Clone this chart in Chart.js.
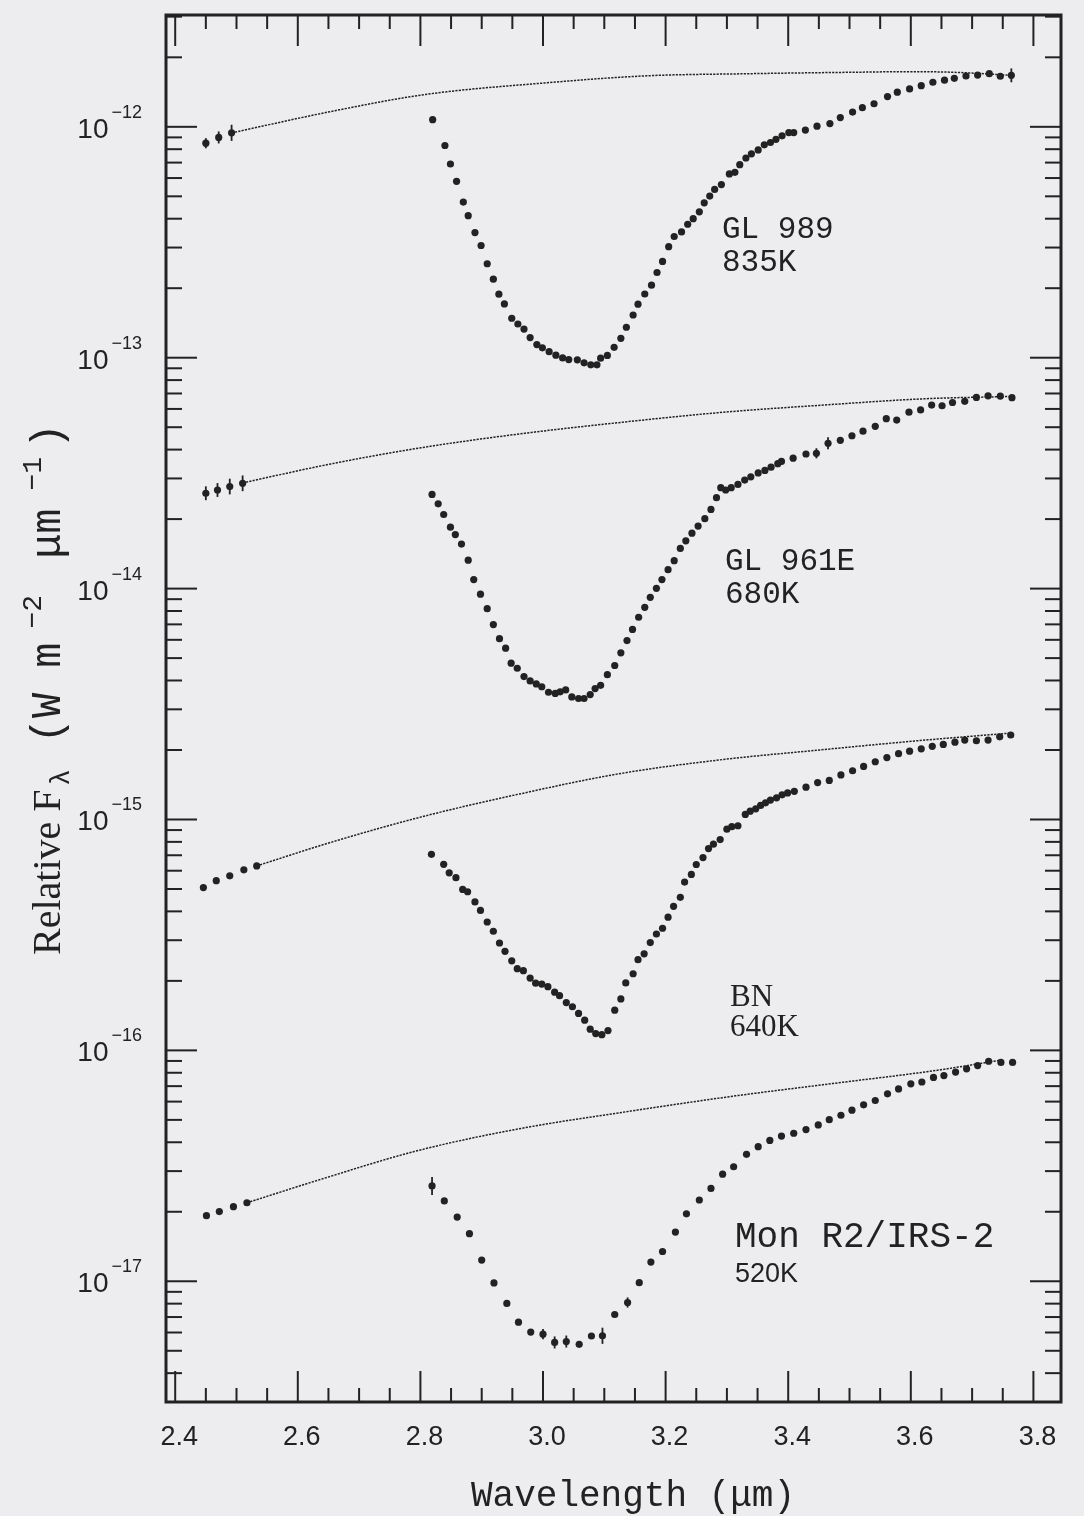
<!doctype html>
<html lang="en">
<head>
  <meta charset="utf-8">
  <title>Relative flux of embedded sources near 3 µm</title>
  <script src="https://cdn.jsdelivr.net/npm/chart.js"></script>
  <style>
    html, body { margin: 0; padding: 0; background: #edecee; }
    canvas { display: block; }
  </style>
</head>
<body>
  <canvas id="canvas_spectra" width="1084" height="1516" style="width:1084px;height:1516px"></canvas>
  <script type="text/javascript">

    // wavelengths in µm, fluxes stored as log10 of relative F_lambda (W m-2 µm-1)

    const gl989_wave = [
      2.450, 2.471, 2.492,
      2.820, 2.840, 2.849, 2.859, 2.870, 2.878, 2.889, 2.899, 2.909, 2.919,
      2.928, 2.937, 2.949, 2.959, 2.969, 2.979, 2.990, 2.999, 3.010, 3.021,
      3.032, 3.042, 3.056, 3.067, 3.078, 3.088, 3.094, 3.105, 3.116, 3.127,
      3.136, 3.147, 3.155, 3.166, 3.177, 3.186, 3.195, 3.205, 3.214, 3.226,
      3.236, 3.245, 3.255, 3.263, 3.272, 3.280, 3.291, 3.304, 3.313, 3.321,
      3.331, 3.340, 3.351, 3.361, 3.371, 3.380, 3.390, 3.401, 3.409, 3.428,
      3.447, 3.468, 3.485, 3.505, 3.521, 3.540, 3.562, 3.578, 3.598, 3.617,
      3.636, 3.655, 3.671, 3.690, 3.709, 3.728, 3.746, 3.764
    ];
    const gl989_log = [
      -12.071, -12.046, -12.026,
      -11.969, -12.081, -12.161, -12.236, -12.326, -12.385, -12.458, -12.514, -12.593, -12.660,
      -12.725, -12.767, -12.829, -12.854, -12.876, -12.913, -12.943, -12.957, -12.974, -12.989,
      -13.001, -13.008, -13.009, -13.022, -13.031, -13.031, -13.002, -12.990, -12.955, -12.916,
      -12.868, -12.815, -12.768, -12.724, -12.686, -12.631, -12.583, -12.519, -12.475, -12.455,
      -12.422, -12.398, -12.368, -12.329, -12.300, -12.271, -12.250, -12.204, -12.197, -12.164,
      -12.135, -12.117, -12.100, -12.078, -12.068, -12.054, -12.039, -12.025, -12.025, -12.014,
      -11.997, -11.986, -11.960, -11.936, -11.917, -11.900, -11.869, -11.850, -11.836, -11.822,
      -11.807, -11.798, -11.790, -11.780, -11.776, -11.770, -11.781, -11.777
    ];
    const gl989_err_index = [0, 1, 2, 80];
    const gl989_err_dex = [0.022, 0.026, 0.035, 0.030];
    const gl989_fit_wave = [2.492, 2.661, 2.808, 3.007, 3.170, 3.334, 3.497, 3.606, 3.682, 3.764];
    const gl989_fit_log = [-12.026, -11.930, -11.860, -11.809, -11.779, -11.770, -11.764, -11.761, -11.765, -11.777];

    const gl961e_wave = [
      2.450, 2.469, 2.489, 2.510,
      2.819, 2.829, 2.838, 2.849, 2.857, 2.867, 2.878, 2.887, 2.898, 2.909,
      2.919, 2.929, 2.939, 2.948, 2.958, 2.969, 2.979, 2.989, 2.998, 3.009,
      3.020, 3.028, 3.037, 3.047, 3.058, 3.067, 3.077, 3.085, 3.094, 3.105,
      3.117, 3.127, 3.137, 3.146, 3.156, 3.166, 3.175, 3.185, 3.194, 3.204,
      3.214, 3.224, 3.233, 3.243, 3.253, 3.264, 3.274, 3.283, 3.290, 3.298,
      3.307, 3.318, 3.329, 3.339, 3.351, 3.362, 3.372, 3.383, 3.389, 3.408,
      3.429, 3.446, 3.465, 3.485, 3.504, 3.522, 3.542, 3.560, 3.577, 3.597,
      3.616, 3.634, 3.651, 3.668, 3.688, 3.707, 3.726, 3.746, 3.765
    ];
    const gl961e_log = [
      -13.587, -13.573, -13.558, -13.544,
      -13.592, -13.633, -13.679, -13.734, -13.766, -13.807, -13.877, -13.961, -14.024, -14.087,
      -14.156, -14.217, -14.258, -14.323, -14.345, -14.381, -14.400, -14.413, -14.425, -14.449,
      -14.454, -14.447, -14.439, -14.469, -14.476, -14.476, -14.459, -14.433, -14.419, -14.373,
      -14.333, -14.278, -14.225, -14.177, -14.124, -14.081, -14.038, -13.999, -13.961, -13.918,
      -13.879, -13.826, -13.793, -13.760, -13.729, -13.697, -13.657, -13.606, -13.563, -13.573,
      -13.563, -13.549, -13.530, -13.516, -13.499, -13.488, -13.474, -13.459, -13.449, -13.435,
      -13.417, -13.414, -13.371, -13.358, -13.338, -13.318, -13.297, -13.264, -13.270, -13.236,
      -13.226, -13.205, -13.208, -13.194, -13.189, -13.172, -13.165, -13.166, -13.173
    ];
    const gl961e_err_index = [0, 1, 2, 3, 65, 66];
    const gl961e_err_dex = [0.030, 0.030, 0.034, 0.034, 0.022, 0.026];
    const gl961e_fit_wave = [2.510, 2.654, 2.801, 2.968, 3.131, 3.295, 3.458, 3.621, 3.760];
    const gl961e_fit_log = [-13.542, -13.460, -13.390, -13.328, -13.279, -13.236, -13.205, -13.178, -13.168];

    const bn_wave = [
      2.446, 2.467, 2.489, 2.512, 2.533,
      2.818, 2.838, 2.847, 2.858, 2.869, 2.877, 2.889, 2.898, 2.909, 2.919,
      2.929, 2.938, 2.949, 2.958, 2.968, 2.979, 2.988, 2.998, 3.008, 3.019,
      3.027, 3.038, 3.048, 3.058, 3.068, 3.077, 3.086, 3.096, 3.106, 3.117,
      3.127, 3.135, 3.147, 3.155, 3.165, 3.175, 3.185, 3.195, 3.204, 3.213,
      3.224, 3.231, 3.242, 3.250, 3.261, 3.270, 3.278, 3.289, 3.300, 3.308,
      3.318, 3.330, 3.338, 3.347, 3.355, 3.363, 3.371, 3.381, 3.390, 3.399,
      3.410, 3.429, 3.448, 3.467, 3.486, 3.505, 3.523, 3.542, 3.561, 3.580,
      3.598, 3.617, 3.635, 3.653, 3.672, 3.688, 3.707, 3.726, 3.745, 3.763
    ];
    const bn_log = [
      -15.295, -15.265, -15.244, -15.218, -15.201,
      -15.151, -15.194, -15.231, -15.252, -15.303, -15.313, -15.357, -15.394, -15.444, -15.484,
      -15.535, -15.571, -15.612, -15.646, -15.655, -15.687, -15.709, -15.713, -15.724, -15.748,
      -15.763, -15.793, -15.811, -15.840, -15.869, -15.908, -15.927, -15.932, -15.914, -15.826,
      -15.777, -15.708, -15.668, -15.607, -15.582, -15.533, -15.496, -15.471, -15.423, -15.376,
      -15.337, -15.271, -15.238, -15.195, -15.165, -15.126, -15.107, -15.087, -15.042, -15.031,
      -15.027, -14.978, -14.964, -14.954, -14.939, -14.928, -14.916, -14.906, -14.893, -14.885,
      -14.878, -14.860, -14.840, -14.831, -14.807, -14.789, -14.770, -14.750, -14.732, -14.715,
      -14.704, -14.694, -14.683, -14.675, -14.665, -14.656, -14.659, -14.656, -14.642, -14.634
    ];
    const bn_err_index = [];
    const bn_err_dex = [];
    const bn_fit_wave = [2.533, 2.649, 2.797, 2.961, 3.124, 3.288, 3.451, 3.615, 3.762];
    const bn_fit_log = [-15.201, -15.103, -14.992, -14.890, -14.802, -14.742, -14.699, -14.658, -14.626];

    const monr2_wave = [
      2.451, 2.472, 2.495, 2.517,
      2.819, 2.839, 2.860, 2.880, 2.900, 2.920, 2.941, 2.960, 2.980, 3.000,
      3.019, 3.038, 3.059, 3.079, 3.097, 3.117, 3.138, 3.157, 3.176, 3.195,
      3.216, 3.234, 3.255, 3.274, 3.293, 3.311, 3.332, 3.351, 3.370, 3.389,
      3.409, 3.429, 3.449, 3.467, 3.486, 3.504, 3.523, 3.542, 3.562, 3.580,
      3.600, 3.618, 3.637, 3.654, 3.673, 3.691, 3.709, 3.727, 3.747, 3.766
    ];
    const monr2_log = [
      -16.716, -16.698, -16.677, -16.660,
      -16.587, -16.652, -16.722, -16.794, -16.908, -17.007, -17.096, -17.177, -17.220, -17.229,
      -17.265, -17.261, -17.273, -17.237, -17.236, -17.144, -17.092, -17.006, -16.917, -16.871,
      -16.787, -16.708, -16.648, -16.598, -16.536, -16.504, -16.450, -16.417, -16.390, -16.371,
      -16.359, -16.343, -16.323, -16.300, -16.281, -16.259, -16.236, -16.217, -16.188, -16.167,
      -16.145, -16.137, -16.117, -16.109, -16.094, -16.080, -16.066, -16.047, -16.052, -16.052
    ];
    const monr2_err_index = [4, 13, 14, 15, 18, 20];
    const monr2_err_dex = [0.039, 0.022, 0.026, 0.026, 0.035, 0.022];
    const monr2_fit_wave = [2.517, 2.643, 2.790, 2.954, 3.150, 3.314, 3.477, 3.641, 3.747];
    const monr2_fit_log = [-16.660, -16.554, -16.438, -16.343, -16.260, -16.197, -16.142, -16.087, -16.042];

    // axis ticks
    const x_major_ticks = [2.4, 2.6, 2.8, 3.0, 3.2, 3.4, 3.6, 3.8];
    const x_tick_labels = ['2.4', '2.6', '2.8', '3.0', '3.2', '3.4', '3.6', '3.8'];
    const y_decades = [-17, -16, -15, -14, -13, -12];

    const ink = '#222222';
    const paper = '#edecee';

    const to_points = (wave, log) => wave.map((w, i) => ({ x: w, y: Math.pow(10, log[i]) }));

    const series = [
      { wave: gl989_wave, log: gl989_log, err_index: gl989_err_index, err_dex: gl989_err_dex, fit_wave: gl989_fit_wave, fit_log: gl989_fit_log },
      { wave: gl961e_wave, log: gl961e_log, err_index: gl961e_err_index, err_dex: gl961e_err_dex, fit_wave: gl961e_fit_wave, fit_log: gl961e_fit_log },
      { wave: bn_wave, log: bn_log, err_index: bn_err_index, err_dex: bn_err_dex, fit_wave: bn_fit_wave, fit_log: bn_fit_log },
      { wave: monr2_wave, log: monr2_log, err_index: monr2_err_index, err_dex: monr2_err_dex, fit_wave: monr2_fit_wave, fit_log: monr2_fit_log }
    ];

    const datasets = [];
    series.forEach((s) => {
      datasets.push({
        type: 'line', data: to_points(s.fit_wave, s.fit_log),
        borderColor: ink, borderWidth: 1.5, borderDash: [2.2, 1.2],
        pointRadius: 0, cubicInterpolationMode: 'monotone', fill: false
      });
      datasets.push({
        type: 'scatter', data: to_points(s.wave, s.log),
        pointRadius: 3.6, pointBackgroundColor: ink, pointBorderWidth: 0, pointStyle: 'circle'
      });
    });

    const paper_plugin = {
      id: 'paper_plugin',
      beforeDraw(chart) {
        const ctx = chart.ctx;
        ctx.save();
        ctx.fillStyle = paper;
        ctx.fillRect(0, 0, chart.width, chart.height);
        ctx.restore();
      }
    };

    const error_bar_plugin = {
      id: 'error_bar_plugin',
      afterDatasetsDraw(chart) {
        const { ctx, scales: { x, y } } = chart;
        ctx.save();
        ctx.strokeStyle = ink;
        ctx.lineWidth = 1.8;
        series.forEach((s) => {
          s.err_index.forEach((idx, k) => {
            const px = x.getPixelForValue(s.wave[idx]);
            const top = y.getPixelForValue(Math.pow(10, s.log[idx] + s.err_dex[k]));
            const bottom = y.getPixelForValue(Math.pow(10, s.log[idx] - s.err_dex[k]));
            ctx.beginPath();
            ctx.moveTo(px, top);
            ctx.lineTo(px, bottom);
            ctx.stroke();
          });
        });
        ctx.restore();
      }
    };

    function line(ctx, x1, y1, x2, y2) {
      ctx.beginPath();
      ctx.moveTo(x1, y1);
      ctx.lineTo(x2, y2);
      ctx.stroke();
    }

    // draws a run of text pieces one after another (used for super/subscripts)
    function draw_runs(ctx, runs, x, y) {
      let cx = x;
      runs.forEach((r) => {
        ctx.font = r.font;
        ctx.fillText(r.text, cx, y + (r.dy || 0));
        cx += ctx.measureText(r.text).width + (r.gap || 0);
      });
    }

    function runs_width(ctx, runs) {
      let w = 0;
      runs.forEach((r) => { ctx.font = r.font; w += ctx.measureText(r.text).width + (r.gap || 0); });
      return w;
    }

    const frame_plugin = {
      id: 'frame_plugin',
      afterDraw(chart) {
        const { ctx, chartArea: a, scales: { x, y } } = chart;
        ctx.save();
        ctx.strokeStyle = ink;
        ctx.fillStyle = ink;

        ctx.lineWidth = 3;
        ctx.strokeRect(a.left, a.top, a.right - a.left, a.bottom - a.top);

        // x ticks, inward on bottom and top
        ctx.lineWidth = 2;
        for (let i = 0; i <= 29; i++) {
          const v = 2.4 + i * 0.05;
          if (v > x.max) break;
          const px = x.getPixelForValue(v);
          const len = i % 4 === 0 ? 31 : 14;
          line(ctx, px, a.bottom, px, a.bottom - len);
          line(ctx, px, a.top, px, a.top + len);
        }

        // y ticks, inward on left and right
        for (let d = -18; d <= -12; d++) {
          for (let k = 1; k <= 9; k++) {
            const v = k * Math.pow(10, d);
            if (v < y.min || v > y.max) continue;
            const py = y.getPixelForValue(v);
            const len = k === 1 ? 31 : 16;
            line(ctx, a.left, py, a.left + len, py);
            line(ctx, a.right, py, a.right - len, py);
          }
        }

        // x tick labels
        const sans = '"Liberation Sans", Arial, sans-serif';
        ctx.font = '27px ' + sans;
        ctx.textAlign = 'center';
        ctx.textBaseline = 'alphabetic';
        x_major_ticks.forEach((v, i) => {
          ctx.fillText(x_tick_labels[i], x.getPixelForValue(v) + 4, a.bottom + 43);
        });

        // y tick labels: 10 with a raised exponent
        ctx.textAlign = 'left';
        y_decades.forEach((d) => {
          const py = y.getPixelForValue(Math.pow(10, d));
          const runs = [
            { text: '10', font: '28px ' + sans, dy: 11, gap: 3 },
            { text: '\u2212' + Math.abs(d), font: '18px ' + sans, dy: -9 }
          ];
          const w = runs_width(ctx, runs);
          draw_runs(ctx, runs, a.left - 24 - w, py);
        });

        // axis titles
        const mono = '"Liberation Mono", "Courier New", monospace';
        const serif = '"Liberation Serif", "Times New Roman", serif';
        ctx.font = '36px ' + mono;
        ctx.textAlign = 'center';
        ctx.fillText('Wavelength (\u03bcm)', 633, 1506);

        // vertical title, read bottom to top starting just above the lowest labels
        ctx.save();
        ctx.translate(60, 955);
        ctx.rotate(-Math.PI / 2);
        ctx.textAlign = 'left';
        draw_runs(ctx, [
          { text: 'Relative F', font: '40px ' + serif, gap: 4 },
          { text: '\u03bb', font: '27px ' + mono, dy: 9, gap: 26 },
          { text: '(W m', font: '42px ' + mono, gap: 14 },
          { text: '\u22122', font: '28px ' + mono, dy: -19, gap: 36 },
          { text: '\u03bcm', font: '42px ' + mono, gap: 18 },
          { text: '\u22121', font: '28px ' + mono, dy: -19, gap: 8 },
          { text: ')', font: '42px ' + mono }
        ], 0, 0);
        ctx.restore();

        // source names and colour temperatures
        ctx.textAlign = 'left';
        ctx.font = '31px ' + mono;
        ctx.fillText('GL 989', 722, 238);
        ctx.fillText('835K', 722, 271);
        ctx.fillText('GL 961E', 725, 570);
        ctx.fillText('680K', 725, 603);
        ctx.font = '31px ' + serif;
        ctx.fillText('BN', 730, 1006);
        ctx.fillText('640K', 730, 1036);
        ctx.font = '36px ' + mono;
        ctx.fillText('Mon R2/IRS-2', 735, 1247);
        ctx.font = '27px ' + sans;
        ctx.fillText('520K', 735, 1282);

        ctx.restore();
      }
    };

    const chart_spectra = new Chart(document.getElementById('canvas_spectra'), {
      data: { datasets: datasets },
      options: {
        responsive: false,
        animation: false,
        devicePixelRatio: 1,
        layout: { padding: { left: 166, top: 15, right: 23, bottom: 114 } },
        plugins: { legend: { display: false }, tooltip: { enabled: false } },
        scales: {
          x: { type: 'linear', min: 2.385, max: 3.845, display: false },
          y: { type: 'logarithmic', min: 3.0e-18, max: 3.05e-12, display: false }
        }
      },
      plugins: [paper_plugin, error_bar_plugin, frame_plugin]
    });

  </script>
</body>
</html>
